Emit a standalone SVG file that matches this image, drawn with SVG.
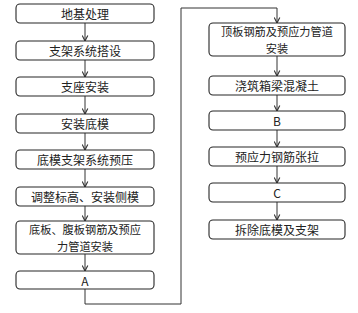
<svg xmlns="http://www.w3.org/2000/svg" width="358" height="313" viewBox="0 0 358 313">
<defs>
<style>
.box{fill:#fff;stroke:#262626;stroke-width:1.1}
.t{font-family:"Noto Sans CJK SC","Noto Sans",sans-serif;font-size:12px;fill:#222;text-anchor:middle;dominant-baseline:central}
.t2{font-size:11.2px}
.c{fill:none;stroke:#333;stroke-width:1}
</style>
<marker id="ah" viewBox="0 0 10 10" refX="9" refY="5" markerWidth="7" markerHeight="7" markerUnits="userSpaceOnUse" orient="auto">
<path d="M1,1 L9,5 L1,9" fill="none" stroke="#333" stroke-width="1.6"/>
</marker>
</defs>
<rect width="358" height="313" fill="#fff"/>
<g id="connectors">
<line class="c" x1="85" y1="23" x2="85" y2="41" marker-end="url(#ah)"/>
<line class="c" x1="85" y1="60" x2="85" y2="77" marker-end="url(#ah)"/>
<line class="c" x1="85" y1="96" x2="85" y2="114" marker-end="url(#ah)"/>
<line class="c" x1="85" y1="133" x2="85" y2="150" marker-end="url(#ah)"/>
<line class="c" x1="85" y1="169" x2="85" y2="187" marker-end="url(#ah)"/>
<line class="c" x1="85" y1="206" x2="85" y2="221" marker-end="url(#ah)"/>
<line class="c" x1="85" y1="254" x2="85" y2="271" marker-end="url(#ah)"/>
<polyline class="c" points="85,289 85,304 181,304 181,8 277,8 277,23" marker-end="url(#ah)"/>
<line class="c" x1="277" y1="56" x2="277" y2="76" marker-end="url(#ah)"/>
<line class="c" x1="277" y1="95" x2="277" y2="111" marker-end="url(#ah)"/>
<line class="c" x1="277" y1="130" x2="277" y2="147" marker-end="url(#ah)"/>
<line class="c" x1="277" y1="166" x2="277" y2="183" marker-end="url(#ah)"/>
<line class="c" x1="277" y1="202" x2="277" y2="220" marker-end="url(#ah)"/>
</g>
<g id="n1"><rect class="box" x="16" y="4" width="138" height="19" rx="4"/><text class="t" x="85" y="13.5">地基处理</text></g>
<g id="n2"><rect class="box" x="16" y="41" width="138" height="19" rx="4"/><text class="t" x="85" y="50.5">支架系统搭设</text></g>
<g id="n3"><rect class="box" x="16" y="77" width="138" height="19" rx="4"/><text class="t" x="85" y="86.5">支座安装</text></g>
<g id="n4"><rect class="box" x="16" y="114" width="138" height="19" rx="4"/><text class="t" x="85" y="123.5">安装底模</text></g>
<g id="n5"><rect class="box" x="16" y="150" width="138" height="19" rx="4"/><text class="t" x="85" y="159.5">底模支架系统预压</text></g>
<g id="n6"><rect class="box" x="16" y="187" width="138" height="19" rx="4"/><text class="t" x="85" y="196.5">调整标高、安装侧模</text></g>
<g id="n7"><rect class="box" x="16" y="221" width="138" height="33" rx="4"/><text class="t t2" x="85" y="229.4">底板、腹板钢筋及预应</text><text class="t t2" x="85" y="245.8">力管道安装</text></g>
<g id="n8"><rect class="box" x="16" y="271" width="138" height="18" rx="4"/><text class="t" x="85" y="280">A</text></g>
<g id="n9"><rect class="box" x="209" y="23" width="136" height="33" rx="4"/><text class="t t2" x="277" y="31.4">顶板钢筋及预应力管道</text><text class="t t2" x="277" y="47.8">安装</text></g>
<g id="n10"><rect class="box" x="209" y="76" width="136" height="19" rx="4"/><text class="t" x="277" y="85.5">浇筑箱梁混凝土</text></g>
<g id="n11"><rect class="box" x="209" y="111" width="136" height="19" rx="4"/><text class="t" x="277" y="120.5">B</text></g>
<g id="n12"><rect class="box" x="209" y="147" width="136" height="19" rx="4"/><text class="t" x="277" y="156.5">预应力钢筋张拉</text></g>
<g id="n13"><rect class="box" x="209" y="183" width="136" height="19" rx="4"/><text class="t" x="277" y="192.5">C</text></g>
<g id="n14"><rect class="box" x="209" y="220" width="136" height="19" rx="4"/><text class="t" x="277" y="229.5">拆除底模及支架</text></g>
</svg>
